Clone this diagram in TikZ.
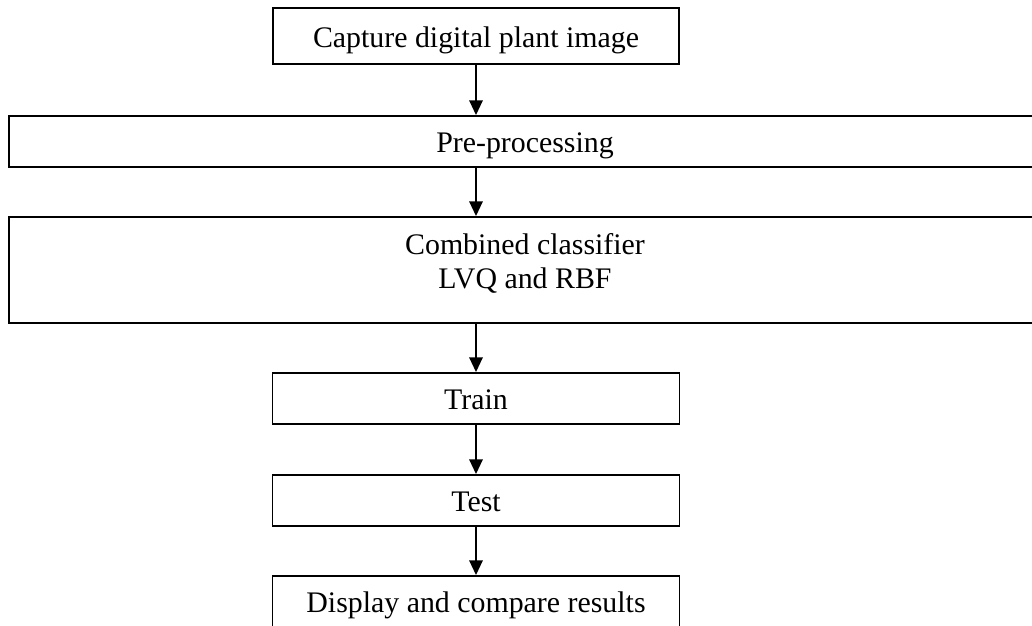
\documentclass[tikz,border=0pt]{standalone}
\usepackage{fontspec}
\setmainfont{Liberation Serif}
\usetikzlibrary{arrows.meta,positioning}

\begin{document}
\begin{tikzpicture}[
    x=0.75pt, y=-0.75pt,
    font=\fontsize{22.4}{25.5}\selectfont,
    >={Triangle[width=10pt,length=11pt]},
    block/.style={draw, line width=1.4pt, inner sep=0pt, text height=16.5pt, text depth=0pt},
    wide/.style={draw, line width=1.4pt, inner sep=0pt, align=center, minimum width=774pt},
    line/.style={->, line width=1.4pt}
]
\useasboundingbox (0,0) rectangle (1032,625);
\node[block, minimum width=304.5pt, minimum height=42pt] (capture) at (476,36) {Capture digital plant image};
\node[wide, block, minimum height=38.25pt] (pre) at (525,141.5) {Pre-processing};
\node[wide, text height=27.5pt, text depth=0pt, minimum height=79.5pt] (comb) at (525,270) {Combined classifier\\LVQ and RBF};
\node[block, minimum width=305.25pt, minimum height=38.25pt] (train) at (476,398.5) {Train};
\node[block, minimum width=305.25pt, minimum height=38.25pt] (test) at (476,500.5) {Test};
\node[block, minimum width=305.25pt, minimum height=38.25pt] (disp) at (476,601.5) {Display and compare results};
\draw[line] (capture.south) -- (capture.south |- pre.north);
\draw[line] (capture.south |- pre.south) -- (capture.south |- comb.north);
\draw[line] (train.north |- comb.south) -- (train.north);
\draw[line] (train.south) -- (test.north);
\draw[line] (test.south) -- (disp.north);
\end{tikzpicture}
\end{document}
